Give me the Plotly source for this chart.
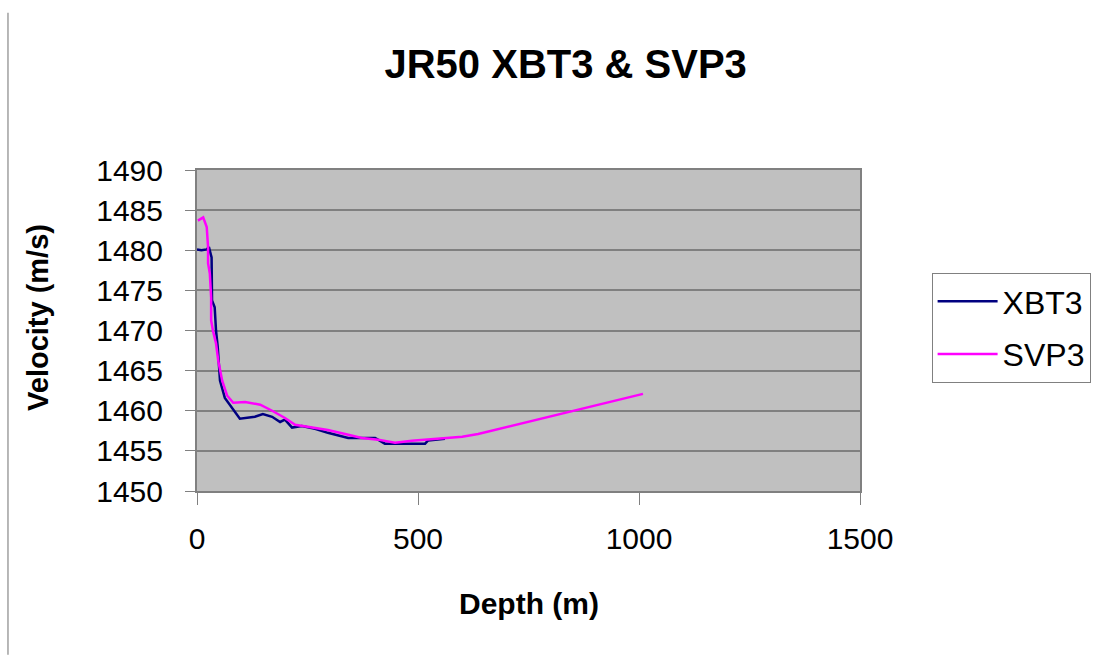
import plotly.graph_objects as go

# XBT3 profile
xbt3_depth = [0, 10, 22, 27, 33, 34, 40, 43, 47, 52, 63, 79, 97, 131, 149, 170, 188, 199,
              215, 237, 267, 296, 342, 373, 403, 425, 516, 523, 561]
xbt3_vel = [1480.1, 1480.0, 1480.1, 1480.4, 1479.1, 1473.75, 1472.9, 1470.0, 1467.9, 1463.75,
            1461.6, 1460.4, 1459.0, 1459.25, 1459.6, 1459.25, 1458.6, 1458.9, 1457.9, 1458.1,
            1457.75, 1457.25, 1456.6, 1456.6, 1456.6, 1455.9, 1455.9, 1456.3, 1456.5]

# SVP3 profile
svp3_depth = [2, 14, 22, 25, 25, 29, 32, 32, 36, 43, 48, 57, 68, 82, 109, 143, 170, 199, 222,
              260, 296, 335, 373, 410, 448, 486, 523, 561, 600, 636, 674, 712, 749, 787, 826,
              862, 900, 938, 975, 1009]
svp3_vel = [1483.7, 1484.1, 1482.9, 1480.4, 1478.4, 1477.1, 1474.1, 1471.25, 1470.0, 1468.4,
            1466.25, 1463.75, 1461.9, 1461.0, 1461.1, 1460.75, 1460.0, 1459.1, 1458.25, 1457.9,
            1457.6, 1457.1, 1456.6, 1456.4, 1456.0, 1456.25, 1456.4, 1456.5, 1456.75, 1457.1,
            1457.6, 1458.1, 1458.6, 1459.1, 1459.6, 1460.1, 1460.6, 1461.1, 1461.6, 1462.1]

x_ticks = [0, 500, 1000, 1500]
y_ticks = [1450, 1455, 1460, 1465, 1470, 1475, 1480, 1485, 1490]

FONT = "Arial, Liberation Sans, sans-serif"

fig = go.Figure()
fig.add_trace(go.Scatter(x=xbt3_depth, y=xbt3_vel, mode="lines", name="XBT3", legendgroup="a",
                         line=dict(color="#000080", width=2.5)))
fig.add_trace(go.Scatter(x=svp3_depth, y=svp3_vel, mode="lines", name="SVP3", legendgroup="b",
                         line=dict(color="#FF00FF", width=2.5)))

fig.update_layout(
    width=1107, height=655,
    margin=dict(l=197, r=247, t=170, b=164),
    paper_bgcolor="white",
    plot_bgcolor="#C0C0C0",
    font=dict(family=FONT, color="black", size=30),
    title=dict(text="<b>JR50 XBT3 &amp; SVP3</b>", xref="container", x=0.511, xanchor="center",
               yref="container", y=0.902, yanchor="middle",
               font=dict(family=FONT, size=40, color="black")),
    showlegend=True,
    legend=dict(x=1.108, y=0.679, xanchor="left", yanchor="top",
                bordercolor="#808080", borderwidth=1, bgcolor="white",
                font=dict(family=FONT, size=32, color="black"),
                itemwidth=60, tracegroupgap=8),
    xaxis=dict(range=[0, 1500], tickvals=x_ticks, showgrid=False, zeroline=False,
               showline=True, linecolor="#808080", linewidth=2, mirror=True,
               ticks="outside", ticklen=12, tickcolor="#808080", tickwidth=1,
               ticklabelstandoff=8, tickfont=dict(family=FONT, size=30, color="black")),
    yaxis=dict(range=[1450, 1490], tickvals=y_ticks, showgrid=True, gridcolor="#808080",
               gridwidth=1.5, zeroline=False,
               showline=True, linecolor="#808080", linewidth=2, mirror=True,
               ticks="outside", ticklen=10, tickcolor="#808080", tickwidth=1,
               ticklabelstandoff=16, tickfont=dict(family=FONT, size=30, color="black")),
    annotations=[
        dict(text="<b>Velocity (m/s)</b>", xref="paper", yref="paper", x=-0.2398, y=0.539,
             textangle=-90, showarrow=False, xanchor="center", yanchor="middle",
             font=dict(family=FONT, size=29, color="black")),
        dict(text="<b>Depth (m)</b>", xref="paper", yref="paper", x=0.5008, y=-0.349,
             showarrow=False, xanchor="center", yanchor="middle",
             font=dict(family=FONT, size=30, color="black")),
    ],
    shapes=[
        dict(type="line", xref="paper", yref="paper", x0=-0.2851, x1=-0.2851, y0=-0.51, y1=1.49,
             line=dict(color="#A0A0A0", width=1.5)),
    ],
)

fig.write_html("out.html")
